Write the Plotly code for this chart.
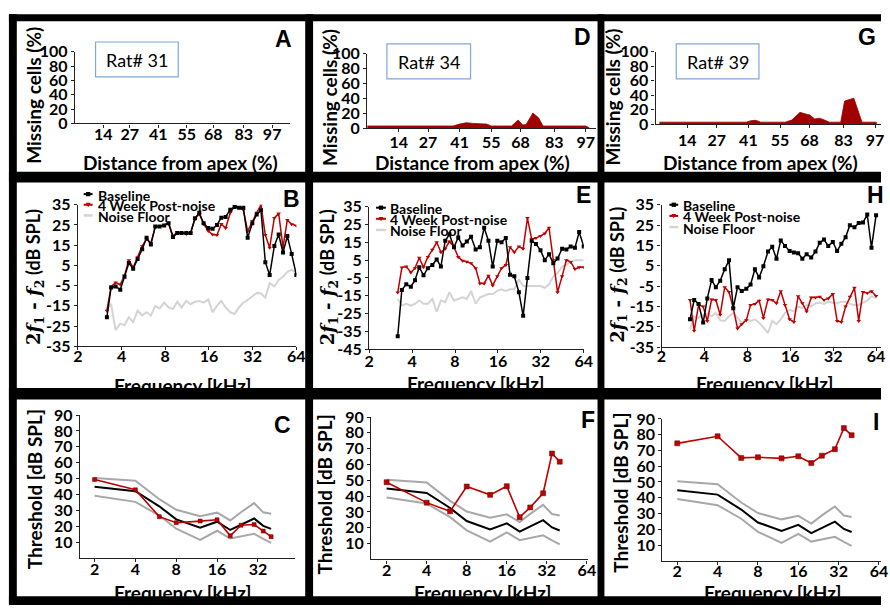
import plotly.graph_objects as go

W, H = 890, 614

# ---------------- row 1: missing hair cells vs distance from apex ----------------
DIST_TICKS = [14, 27, 41, 55, 68, 83, 97]
MISS_TICKS = [0, 20, 40, 60, 80, 100]

DIST_A = [0, 98]
MISS_A = [0, 0]

DIST_D = [0, 38, 41, 44, 47, 50, 53, 55, 64, 67, 69, 70.5, 73.5, 76, 78, 97, 98.5]
MISS_D = [3, 3, 5.5, 7.4, 6.5, 6, 5.5, 3, 3, 10.9, 4.3, 5, 20.4, 14, 3, 3, 0.5]

DIST_G = [1.7, 40, 42.1, 44.3, 46.5, 57.3, 60.2, 63.8, 66.7, 68.1, 70.3, 72.4, 74.6,
          76.8, 81.8, 83.5, 85.4, 87.6, 91.2, 97.7]
MISS_G = [3, 3, 5, 5.5, 3, 3, 6, 16.5, 14, 13, 7.5, 8.5, 6, 3, 3, 32, 34, 36, 3, 3]

# ---------------- row 2: DPOAE (2f1-f2) ----------------
FREQ = [3.17, 3.39, 3.64, 3.92, 4.19, 4.49, 4.81, 5.16, 5.55, 5.95, 6.37, 6.83, 7.31,
        7.87, 8.43, 9.04, 9.68, 10.37, 11.17, 11.96, 12.81, 13.73, 14.70, 15.84, 16.96,
        18.17, 19.46, 20.85, 22.45, 24.05, 25.77, 27.60, 29.56, 31.83, 34.11, 36.53,
        39.13, 41.91, 45.14, 48.35, 51.80, 55.49, 59.44, 64.0]
FREQ_TICKS = [2, 4, 8, 16, 32, 64]

B_BASE = [-20.6, -5.9, -5.4, -7.0, -0.6, 6.2, 3.4, 8.2, 13.0, 18.7, 15.4, 24.3, 24.3,
          24.7, 25.9, 19.0, 21.0, 21.0, 21.0, 21.0, 28.3, 31.0, 25.9, 23.5, 23.1, 25.0,
          28.6, 29.0, 32.6, 33.9, 33.5, 33.5, 18.7, 25.9, 30.2, 32.3, 6.6, 0.2, 14.6,
          20.3, 11.4, 19.5, 10.6, 0.2]
B_POST = [-17.4, -5.5, -3.5, -4.5, 0.0, 7.5, 4.0, 9.0, 14.5, 18.0, 16.0, 24.0, 24.5,
          25.0, 26.0, 19.5, 21.5, 21.0, 20.5, 21.0, 28.0, 30.5, 25.5, 22.0, 20.3, 20.0,
          25.5, 23.5, 31.0, 34.5, 33.5, 32.5, 21.9, 27.0, 31.0, 35.0, 20.0, 13.8, 28.5,
          30.7, 14.0, 27.5, 25.4, 24.6]
B_NOISE = [-16.6, -14.0, -27.0, -23.8, -24.6, -20.6, -23.0, -17.4, -19.8, -18.2, -19.8,
           -15.0, -16.3, -13.4, -15.8, -16.6, -13.0, -15.8, -12.6, -14.2, -13.0, -12.6,
           -13.4, -11.8, -18.2, -15.0, -12.6, -15.8, -18.2, -19.0, -15.8, -13.4, -12.1,
           -10.2, -8.6, -8.9, -11.0, -3.8, -5.4, -2.2, -0.6, 1.8, 2.9, 1.0]

E_BASE = [-37.7, -11.7, -8.6, -9.9, -6.3, 1.0, -3.5, 0.5, 2.3, 5.4, 1.4, 15.9, 19.5,
          12.3, 17.7, 13.2, 15.4, 18.1, 11.0, 12.3, 23.2, 15.9, 1.4, 15.9, 15.0, 17.4,
          -3.2, -4.1, -13.0, -26.3, -5.0, 15.9, 14.1, 10.5, 5.0, 8.3, 3.2, 5.9, 11.4,
          11.0, 12.6, 11.9, 20.8, 12.6]
E_POST = [-13.2, 0.8, 1.4, -1.9, 0.5, 6.3, 1.0, 6.8, 10.8, 15.0, 9.5, 11.4, 15.5, 12.3,
          6.8, 4.6, 4.1, 3.2, 0.5, -8.1, -8.1, -3.7, -9.2, -4.1, 0.5, 2.3, 12.3, 9.5,
          12.6, 11.4, 28.6, 16.8, 17.4, 18.6, 20.0, 23.2, 5.0, -13.0, -4.0, 5.0, 4.0,
          0.0, 1.0, 1.0]
E_NOISE = [-16.8, -20.5, -19.5, -20.5, -19.5, -17.7, -19.5, -19.5, -16.8, -24.0, -17.7,
           -18.6, -13.0, -17.7, -16.8, -15.9, -16.8, -12.3, -19.5, -15.9, -15.0, -14.0,
           -14.0, -12.3, -11.4, -12.3, -11.4, -11.4, -5.9, -9.5, -9.5, -9.5, -9.5, -9.5,
           -10.5, -8.6, -4.1, -2.3, 1.4, 2.3, 4.1, 5.0, 5.0, 5.0]

H_BASE = [-21.3, -11.8, -13.7, -22.9, -11.0, -2.0, -5.5, -2.3, 3.3, 7.7, -15.8, -5.5,
          -7.4, -6.3, -4.2, 3.3, -0.7, 4.8, 12.0, 14.4, 8.5, 17.5, 14.8, 12.3, 11.5, 11.2,
          8.5, 10.7, 9.1, 12.0, 16.4, 17.9, 14.8, 16.7, 12.3, 15.9, 19.1, 25.0, 23.9,
          26.0, 26.3, 30.2, 13.9, 29.8]
H_POST = [-11.8, -26.9, -14.2, -15.0, -22.1, -11.5, -11.8, -19.0, -5.5, -7.9, -15.8,
          -25.8, -23.7, -21.7, -14.2, -13.7, -12.1, -20.6, -11.5, -11.8, -13.4, -7.5,
          -14.2, -21.3, -22.6, -9.9, -13.4, -17.4, -10.6, -10.6, -10.2, -11.8, -11.0,
          -8.9, -22.1, -22.6, -15.0, -10.2, -5.8, -22.1, -7.9, -8.3, -7.5, -9.8]
H_NOISE = [-26.1, -19.8, -20.6, -19.0, -18.5, -19.8, -18.2, -21.8, -22.1, -19.8, -18.2,
           -20.6, -23.0, -21.3, -22.1, -21.3, -23.0, -25.3, -28.0, -22.1, -23.7, -21.3,
           -18.2, -16.6, -17.4, -15.0, -15.8, -14.2, -15.0, -13.4, -13.1, -13.7, -12.6,
           -13.1, -13.4, -12.6, -12.6, -13.7, -14.2, -14.2, -13.1, -12.1, -9.9, -11.0]

# ---------------- row 3: ABR thresholds ----------------
ABR_FREQ = [2, 4, 6, 8, 12, 16, 20, 24, 30, 35, 40]
THR_TICKS = [10, 20, 30, 40, 50, 60, 70, 80, 90]
ABR_MEAN = [44.8, 42.0, 32.5, 24.3, 19.0, 22.8, 17.6, 21.0, 24.8, 20.2, 18.3]
ABR_UPPER = [50.4, 48.6, 37.0, 30.3, 26.3, 28.5, 23.6, 28.8, 34.5, 28.7, 27.8]
ABR_LOWER = [39.2, 35.3, 26.7, 18.4, 11.3, 17.1, 12.2, 13.5, 15.2, 12.0, 9.5]
C_POST = [49.4, 42.9, 26.0, 22.2, 23.2, 24.0, 13.9, 20.6, 21.0, 16.9, 13.4]
F_POST = [48.8, 35.9, 30.4, 46.1, 40.8, 46.3, 26.7, 32.9, 41.8, 66.9, 61.8]
I_POST = [74.5, 79.0, 65.3, 65.7, 65.0, 66.3, 62.0, 66.7, 70.8, 84.2, 79.7]

RAT_IDS = ["Rat# 31", "Rat# 34", "Rat# 39"]
PANEL_LETTERS = ["A", "D", "G", "B", "E", "H", "C", "F", "I"]
LEGEND_NAMES = ["Baseline", "4 Week Post-noise", "Noise Floor"]

RED = "#c00000"
FILL_RED = "#a00000"
NOISE_GRAY = "#d4d4d4"
SD_GRAY = "#a8a8a8"
FONT = "Lato"
LOG2 = 0.30103


def fx(x):
    return x / W


def fy(y):
    return 1 - y / H


tick_font = dict(family=FONT, size=16, color="black", weight="bold")


def axis(dom, anchor, rng, vals, standoff=0, log=False):
    d = dict(
        domain=list(dom), anchor=anchor, range=rng,
        tickmode="array", tickvals=vals, ticktext=[str(v) for v in vals],
        showline=True, linecolor="#222222", linewidth=1.3,
        ticks="outside", ticklen=3, tickcolor="#222222", tickwidth=1,
        tickfont=tick_font, showgrid=False, zeroline=False,
        ticklabelstandoff=standoff, fixedrange=True,
    )
    if log:
        d["type"] = "log"
    return d


layout_axes = {}
# (index, x0, x1, ybottom, ytop, xrange, yrange, xticks, yticks, xstandoff, log)
panels = [
    (1, 71, 290, 117, 43, [0, 106], [0, 100], DIST_TICKS, MISS_TICKS, -7, False),
    (2, 368, 600, 122, 45, [0, 101.3], [0, 100], DIST_TICKS, MISS_TICKS, -4, False),
    (3, 661, 890, 118, 43, [0, 99.6], [0, 100], DIST_TICKS, MISS_TICKS, -2, False),
    (4, 74, 296, 347, 201, [1 * LOG2, 6 * LOG2], [-35, 35], FREQ_TICKS,
     list(range(-35, 36, 10)), -8, True),
    (5, 370, 588, 350, 203, [1 * LOG2, 6 * LOG2], [-45, 35], FREQ_TICKS,
     list(range(-45, 36, 10)), -6, True),
    (6, 667, 890, 348, 201, [1 * LOG2, 6.115 * LOG2], [-35, 35], FREQ_TICKS,
     list(range(-35, 36, 10)), -9, True),
    (7, 76, 295, 565.4, 418, [0.639 * LOG2, 5.916 * LOG2], [0, 90], FREQ_TICKS,
     THR_TICKS, -6, True),
    (8, 372, 592, 567, 420, [0.614 * LOG2, 6.02 * LOG2], [0, 90], FREQ_TICKS,
     THR_TICKS, -7, True),
    (9, 668, 890, 568.4, 422, [0.634 * LOG2, 6.05 * LOG2], [0, 90], FREQ_TICKS,
     THR_TICKS, -7, True),
]
for (i, x0, x1, yb, yt, xr, yr, xt, yt_vals, so, lg) in panels:
    sfx = "" if i == 1 else str(i)
    layout_axes["xaxis" + sfx] = axis((fx(x0), fx(x1)), "y" + sfx, xr, xt, so, lg)
    layout_axes["yaxis" + sfx] = axis((fy(yb), fy(yt)), "x" + sfx, yr, yt_vals)

fig = go.Figure()

# row 1 area fills
for (xs, ys, ax, ay) in [(DIST_A, MISS_A, "x", "y"), (DIST_D, MISS_D, "x2", "y2"),
                         (DIST_G, MISS_G, "x3", "y3")]:
    fig.add_trace(go.Scatter(
        x=xs, y=ys, xaxis=ax, yaxis=ay, mode="lines", fill="tozeroy",
        line=dict(color=FILL_RED, width=0.8 if max(ys) > 0 else 0),
        fillcolor=FILL_RED, showlegend=False, hoverinfo="skip"))

# row 2 DPOAE curves
for (base, post, noise, ax, ay) in [(B_BASE, B_POST, B_NOISE, "x4", "y4"),
                                    (E_BASE, E_POST, E_NOISE, "x5", "y5"),
                                    (H_BASE, H_POST, H_NOISE, "x6", "y6")]:
    fig.add_trace(go.Scatter(x=FREQ, y=noise, xaxis=ax, yaxis=ay, mode="lines",
                             line=dict(color=NOISE_GRAY, width=2), showlegend=False))
    fig.add_trace(go.Scatter(x=FREQ, y=post, xaxis=ax, yaxis=ay, mode="lines+markers",
                             line=dict(color=RED, width=1.5),
                             marker=dict(symbol="triangle-down", size=4, color=RED),
                             showlegend=False))
    fig.add_trace(go.Scatter(x=FREQ, y=base, xaxis=ax, yaxis=ay, mode="lines+markers",
                             line=dict(color="black", width=1.5),
                             marker=dict(symbol="square", size=4, color="black"),
                             showlegend=False))

# row 3 ABR thresholds
for (post, ax, ay, msize) in [(C_POST, "x7", "y7", 4), (F_POST, "x8", "y8", 5),
                              (I_POST, "x9", "y9", 5)]:
    for band in (ABR_UPPER, ABR_LOWER):
        fig.add_trace(go.Scatter(x=ABR_FREQ, y=band, xaxis=ax, yaxis=ay, mode="lines",
                                 line=dict(color=SD_GRAY, width=2), showlegend=False))
    fig.add_trace(go.Scatter(x=ABR_FREQ, y=ABR_MEAN, xaxis=ax, yaxis=ay, mode="lines",
                             line=dict(color="black", width=2), showlegend=False))
    fig.add_trace(go.Scatter(x=ABR_FREQ, y=post, xaxis=ax, yaxis=ay, mode="lines+markers",
                             line=dict(color=RED, width=1.6),
                             marker=dict(symbol="square", size=msize, color=RED,
                                         line=dict(color="#600000", width=0.5)),
                             showlegend=False))

annotations = []
shapes = []


def text(x, y, s, size=19, angle=0, family=FONT, weight="bold", xanchor="center",
         pad=1):
    annotations.append(dict(
        x=fx(x), y=fy(y), xref="paper", yref="paper", text=s, showarrow=False,
        textangle=angle, xanchor=xanchor, yanchor="middle", borderpad=pad,
        font=dict(family=family, size=size, color="black", weight=weight)))


# axis titles
for (x, y) in [(29, 88), (329, 90), (617, 90)]:
    text(x, y, "Missing cells (%)", angle=-90)
for (x, y) in [(178, 157), (475, 157), (768, 157)]:
    text(x, y, "Distance from apex (%)")
dp_title = ("<span style='font-family:DejaVu Serif'>2<i>f</i><sub>1</sub> - "
            "<i>f</i><sub>2</sub></span> (dB SPL)")
for (x, y) in [(30, 276), (329, 276), (623, 273)]:
    text(x, y, dp_title, size=18, angle=-90)
for (x, y) in [(180, 388), (478, 385), (772, 385), (180, 601), (485, 601), (780, 601)]:
    text(x, y, "Frequency [kHz]")
for (x, y) in [(30, 495), (325, 500), (625, 498)]:
    text(x, y, "Threshold [dB SPL]", angle=-90)

# panel letters, left-anchored (the right-hand column runs off the page edge)
for (letter, (x, y)) in zip(PANEL_LETTERS, [(273, 30), (577, 28), (866, 28),
                                            (281, 195), (579, 191), (875, 191),
                                            (272, 428), (584, 423), (881, 425)]):
    text(x, y, letter, size=23, family="Liberation Sans", xanchor="left", pad=0)

# animal id boxes
for (rid, (x0, y0, x1, y1)) in zip(RAT_IDS, [(92, 33, 176, 69), (388, 35, 473, 71),
                                            (682, 35, 766, 71)]):
    shapes.append(dict(type="rect", xref="paper", yref="paper",
                       x0=fx(x0), x1=fx(x1), y0=fy(y1), y1=fy(y0),
                       line=dict(color="#7fa8d8", width=1.2), fillcolor="white"))
    text((x0 + x1) / 2, (y0 + y1) / 2 + 1, rid, size=18, weight="normal")

# legends for the DPOAE panels
legend_styles = [("black", "square"), (RED, "tri"), (NOISE_GRAY, None)]
for (sx0, sx1, tx, rows) in [(80, 89, 92, (190, 201, 212)),
                             (377, 387, 389, (204, 215.5, 227)),
                             (675, 684, 687, (201, 212.5, 224))]:
    for (name, (col, mk), ry) in zip(LEGEND_NAMES, legend_styles, rows):
        shapes.append(dict(type="line", xref="paper", yref="paper",
                           x0=fx(sx0), x1=fx(sx1), y0=fy(ry), y1=fy(ry),
                           line=dict(color=col, width=2 if mk else 2.5)))
        cx = (sx0 + sx1) / 2
        if mk == "square":
            shapes.append(dict(type="rect", xref="paper", yref="paper",
                               x0=fx(cx - 2.2), x1=fx(cx + 2.2),
                               y0=fy(ry + 2.2), y1=fy(ry - 2.2),
                               line=dict(width=0), fillcolor=col))
        elif mk == "tri":
            path = "M {} {} L {} {} L {} {} Z".format(
                fx(cx - 2.5), fy(ry - 2), fx(cx + 2.5), fy(ry - 2), fx(cx), fy(ry + 2.5))
            shapes.append(dict(type="path", xref="paper", yref="paper", path=path,
                               line=dict(width=0), fillcolor=col))
        text(tx, ry + 1, name, size=14, xanchor="left")

# heavy black frame around the panels
for (x0, y0, x1, y1) in [(4, 4.5, 890, 11.5), (4, 4.5, 12, 614), (305, 4.5, 313, 614),
                         (602, 4.5, 609, 614), (4, 167, 890, 178), (4, 390, 890, 402),
                         (4, 605, 890, 614)]:
    shapes.append(dict(type="rect", xref="paper", yref="paper", layer="above",
                       x0=fx(x0), x1=fx(x1), y0=fy(y1), y1=fy(y0),
                       line=dict(width=0), fillcolor="black"))

fig.update_layout(
    width=W, height=H, margin=dict(l=0, r=0, t=0, b=0),
    paper_bgcolor="white", plot_bgcolor="white", showlegend=False,
    annotations=annotations, shapes=shapes, **layout_axes)

fig.write_html("out.html", config={"displayModeBar": False})
